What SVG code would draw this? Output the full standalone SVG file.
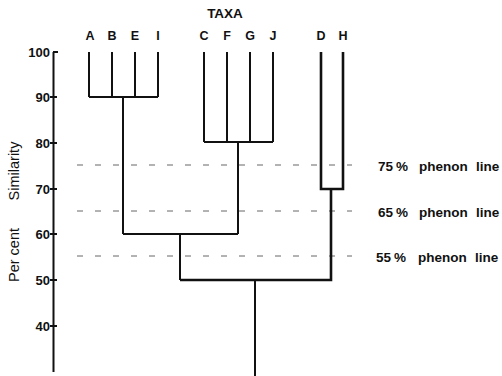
<svg xmlns="http://www.w3.org/2000/svg" width="502" height="376" viewBox="0 0 502 376">
<style>
.t{font-family:"Liberation Sans",Arial,sans-serif;fill:#111}
.lab{font-size:12.5px;font-weight:bold;text-anchor:middle}
.num{font-size:13px;font-weight:bold;text-anchor:end}
.ph{font-size:13.5px;font-weight:bold}
.br{fill:none;stroke:#111;stroke-width:2;stroke-linejoin:miter}
.thick{stroke-width:2.6}
.dash{stroke:#666;stroke-width:1;stroke-dasharray:6 12;fill:none}
.ax{stroke:#111;stroke-width:2;fill:none}
</style>
<rect width="502" height="376" fill="#fff"/>
<g id="axis">
<line class="ax" x1="53.5" y1="52" x2="53.5" y2="372"/>
<line class="ax" x1="53" y1="52" x2="58" y2="52"/>
<line class="ax" x1="50" y1="97" x2="57" y2="97"/>
<line class="ax" x1="50" y1="143" x2="57" y2="143"/>
<line class="ax" x1="50" y1="189" x2="57" y2="189"/>
<line class="ax" x1="50" y1="234" x2="57" y2="234"/>
<line class="ax" x1="50" y1="280" x2="57" y2="280"/>
<line class="ax" x1="50" y1="326" x2="57" y2="326"/>
<text class="t num" x="50" y="57">100</text>
<text class="t num" x="50" y="102">90</text>
<text class="t num" x="50" y="148">80</text>
<text class="t num" x="50" y="194">70</text>
<text class="t num" x="50" y="239">60</text>
<text class="t num" x="50" y="285">50</text>
<text class="t num" x="50" y="331">40</text>
<text class="t" font-size="14.5" text-anchor="middle" transform="translate(19,171) rotate(-90)">Similarity</text>
<text class="t" font-size="14.5" text-anchor="middle" transform="translate(19,255) rotate(-90)">Per cent</text>
</g>
<g id="title"><text class="t" x="225" y="18" font-size="13.5" font-weight="bold" text-anchor="middle">TAXA</text></g>
<g id="leaf-A"><text class="t lab" x="90" y="40">A</text></g>
<g id="leaf-B"><text class="t lab" x="112" y="40">B</text></g>
<g id="leaf-E"><text class="t lab" x="135" y="40">E</text></g>
<g id="leaf-I"><text class="t lab" x="158" y="40">I</text></g>
<g id="leaf-C"><text class="t lab" x="204" y="40">C</text></g>
<g id="leaf-F"><text class="t lab" x="227" y="40">F</text></g>
<g id="leaf-G"><text class="t lab" x="250" y="40">G</text></g>
<g id="leaf-J"><text class="t lab" x="273" y="40">J</text></g>
<g id="leaf-D"><text class="t lab" x="321" y="40">D</text></g>
<g id="leaf-H"><text class="t lab" x="343" y="40">H</text></g>
<g id="phenon-lines">
<line class="dash" x1="77" y1="165" x2="352" y2="165"/>
<line class="dash" x1="77" y1="211" x2="352" y2="211"/>
<line class="dash" x1="77" y1="256" x2="352" y2="256"/>
<text class="t ph" y="171"><tspan x="378">75</tspan><tspan x="396">%</tspan><tspan x="419">phenon</tspan><tspan x="476">line</tspan></text>
<text class="t ph" y="217"><tspan x="378">65</tspan><tspan x="396">%</tspan><tspan x="419">phenon</tspan><tspan x="476">line</tspan></text>
<text class="t ph" y="262"><tspan x="376">55</tspan><tspan x="394">%</tspan><tspan x="418">phenon</tspan><tspan x="475">line</tspan></text>
</g>
<g id="connectors">
<path class="br" d="M89,52V97M112,52V97M135,52V97M158,52V97M89,97H158M123,97V234"/>
<path class="br" d="M204,52V142M227,52V142M250,52V142M273,52V142M204,142H273M238,142V234"/>
<path class="br" d="M123,234H238M180,234V280"/>
<path class="br thick" d="M321,52V189H343V52M331,189V280H180"/>
<path class="br" d="M255,280V376"/>
</g>
</svg>
